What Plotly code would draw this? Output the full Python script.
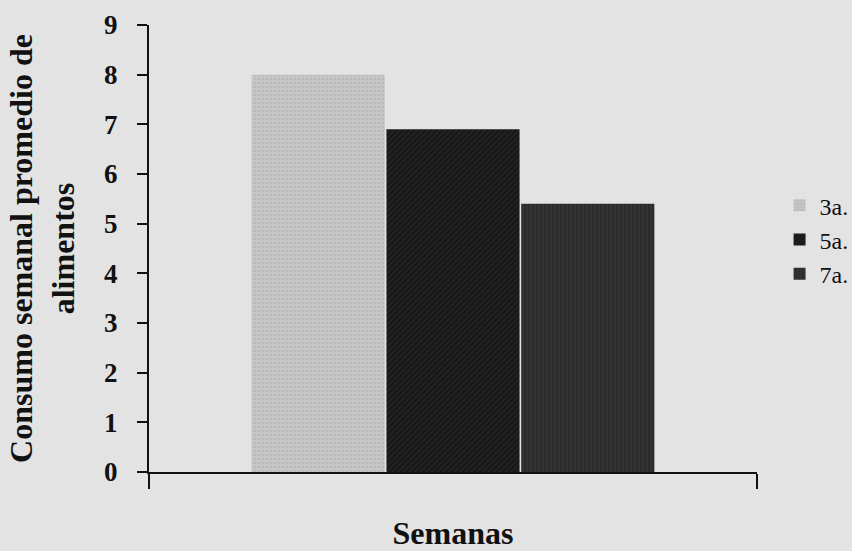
import plotly.graph_objects as go

categories = ["Semanas"]
series_names = ["3a.", "5a.", "7a."]
values_3a = [8.0]
values_5a = [6.9]
values_7a = [5.4]
y_ticks = [0, 1, 2, 3, 4, 5, 6, 7, 8, 9]

bg = "#e3e3e3"
font_family = "Liberation Serif, Times New Roman, serif"

styles = [
    dict(color="#c6c6c6", shape=".", fg="#acacac", size=4, solidity=0.3),
    dict(color="#171717", shape="/", fg="#383838", size=4, solidity=0.3),
    dict(color="#2b2b2b", shape="|", fg="#444444", size=4, solidity=0.3),
]

fig = go.Figure()
for name, vals, st in zip(series_names, [values_3a, values_5a, values_7a], styles):
    fig.add_trace(go.Bar(
        x=categories, y=vals, name=name,
        marker=dict(color=st["color"], line=dict(width=0),
                    pattern=dict(shape=st["shape"], fgcolor=st["fg"],
                                 bgcolor=st["color"], size=st["size"],
                                 solidity=st["solidity"])),
    ))

fig.update_layout(
    width=852, height=551,
    paper_bgcolor=bg, plot_bgcolor=bg,
    margin=dict(l=149, r=95, t=25, b=79, autoexpand=False),
    barmode="group", bargap=0.335, bargroupgap=0.012,
    font=dict(family=font_family, color="#111111"),
    showlegend=True,
    legend=dict(xref="container", yref="container", x=0.915, y=0.565,
                xanchor="left", yanchor="middle",
                bgcolor="rgba(0,0,0,0)", font=dict(size=24, family=font_family),
                itemwidth=30, traceorder="normal"),
    xaxis=dict(
        type="category", showticklabels=False, automargin=False,
        showline=True, linecolor="#111111", linewidth=2,
        ticks="outside", tickson="boundaries", ticklen=15, tickwidth=2, tickcolor="#111111",
        showgrid=False, zeroline=False,
        title=dict(text="Semanas", font=dict(size=32, family=font_family, weight="bold"),
                   standoff=50),
    ),
    yaxis=dict(
        range=[0, 9], tickvals=y_ticks, automargin=False,
        showline=True, linecolor="#111111", linewidth=2,
        ticks="outside", ticklen=10, tickwidth=2, tickcolor="#111111",
        tickfont=dict(size=27, family=font_family, weight="bold"),
        ticklabelstandoff=14,
        showgrid=False, zeroline=False,
        title=dict(text="Consumo semanal promedio de<br>alimentos",
                   font=dict(size=32, family=font_family, weight="bold"), standoff=20),
    ),
)

fig.write_html("out.html", config={"displayModeBar": False},
               post_script="document.body.style.margin='0';")
